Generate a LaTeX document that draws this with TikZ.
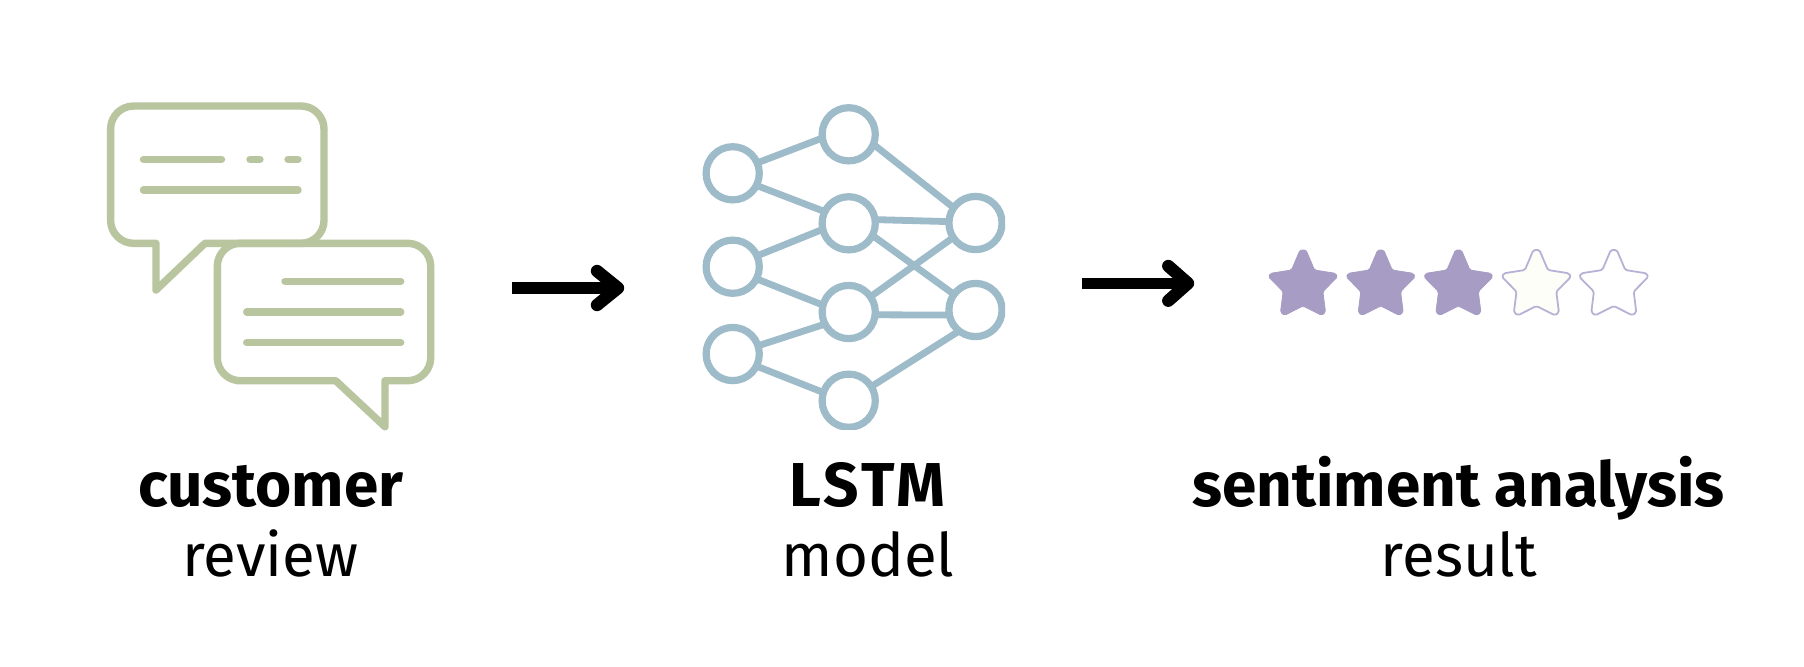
\documentclass[tikz,border=0pt]{standalone}
\usepackage{fontspec}
\setmainfont{Fira Sans}
\definecolor{bubblegreen}{HTML}{B8C59F}
\definecolor{netblue}{HTML}{9DBBC9}
\definecolor{starfill}{HTML}{A79CC4}
\definecolor{staredge}{HTML}{B8B1D6}
\definecolor{stariv}{HTML}{FDFEF8}
\tikzset{
  bubble/.style={draw=bubblegreen,line width=3.7pt,line join=round},
  txtline/.style={draw=bubblegreen,line width=3.7pt,line cap=round},
  neuron/.style={circle,draw=netblue,line width=3.6pt,minimum size=26.6pt,inner sep=0pt,outer sep=0pt},
  synapse/.style={draw=netblue,line width=3.4pt},
  shaft/.style={draw=black,line width=5.6pt},
  head/.style={draw=black,line width=6.2pt,line cap=round,line join=round},
  boldlab/.style={anchor=base,inner sep=0pt,font=\fontsize{31}{36}\selectfont\bfseries},
  reglab/.style={anchor=base,inner sep=0pt,font=\fontsize{30}{36}\selectfont},
  rstar/.pic={\path[pic actions,rounded corners=.8pt,line join=round]
    (-3,-33.3) -- (3,-33.3) -- (11.5,-13.3) -- (32.5,-10) -- (34.5,-6.5) -- (19.9,8.3) -- (22.5,29) -- (18.5,32) -- (0,22.7)
    -- (-18.5,32) -- (-22.5,29) -- (-19.9,8.3) -- (-34.5,-6.5) -- (-32.5,-10) -- (-11.5,-13.3) -- cycle;},
  starfull/.style={fill=starfill,draw=starfill,line width=.4pt},
  stariv/.style={fill=stariv,draw=staredge,line width=.9pt},
  starempty/.style={fill=white,draw=staredge,line width=.9pt},
}
\begin{document}
\begin{tikzpicture}[x=.5pt,y=-.5pt]
\useasboundingbox (0,0) rectangle (1804,666);
\fill[white] (0,0) rectangle (1804,666);
% speech bubbles
\draw[bubble] (156,290) -- (156,243.3) -- (140,243.3) {[rounded corners=11.5pt] -- (110.6,243.3) -- (110.6,106) -- (324,106) -- (324,243.3) -- (280,243.3)} -- (205,243.3) -- cycle;
\draw[bubble] (385,426.7) -- (385,380.7) -- (400,380.7) {[rounded corners=11.5pt] -- (430.7,380.7) -- (430.7,243.3) -- (217.3,243.3) -- (217.3,380.7) -- (260,380.7)} -- (335.7,380.7) -- cycle;
\draw[txtline] (143.5,159.3) -- (221.5,159.3);
\draw[txtline] (250,159.3) -- (260,159.3);
\draw[txtline] (288,159.3) -- (298,159.3);
\draw[txtline] (143.5,190) -- (298,190);
\draw[txtline] (285,281.3) -- (400.7,281.3);
\draw[txtline] (246.7,312) -- (400.7,312);
\draw[txtline] (246.7,342.7) -- (400.7,342.7);
% network
\begin{scope}
\clip (600,0) rectangle (1005,429);
\node[neuron] (L1) at (732.7,173.3) {};
\node[neuron] (L2) at (732.7,266.7) {};
\node[neuron] (L3) at (732.7,354) {};
\node[neuron] (M1) at (848.7,134.3) {};
\node[neuron] (M2) at (848.7,223.3) {};
\node[neuron] (M3) at (848.7,312) {};
\node[neuron] (M4) at (848.7,400.7) {};
\node[neuron] (R1) at (975.5,223) {};
\node[neuron] (R2) at (975.5,310) {};
\draw[synapse] (L1.23) -- (M1.188);
\draw[synapse] (L1.-27) -- (M2.154);
\draw[synapse] (L2.24) -- (M2.193);
\draw[synapse] (L2.-27) -- (M3.165);
\draw[synapse] (L3.18) -- (M3.207);
\draw[synapse] (L3.-27) -- (M4.162);
\draw[synapse] (M1.-22) -- (R1.145);
\draw[synapse] (M2.8) -- (R1.177);
\draw[synapse] (M2.-27) -- (R2.144);
\draw[synapse] (M3.35) -- (R1.213);
\draw[synapse] (M3.-6) -- (R2.191);
\draw[synapse] (M4.32) -- (R2.232);
\end{scope}
% arrows
\coordinate (a1s) at (512.3,288);
\coordinate (a1e) at (618,288);
\coordinate (a1u) at (597,271);
\coordinate (a1d) at (597,305);
\draw[shaft] (a1s) -- (a1e);
\draw[head] (a1u) -- (a1e) -- (a1d);
\coordinate (a2s) at (1082.2,283.3);
\coordinate (a2e) at (1188,283.3);
\coordinate (a2u) at (1168.3,266);
\coordinate (a2d) at (1168.3,300.7);
\draw[shaft] (a2s) -- (a2e);
\draw[head] (a2u) -- (a2e) -- (a2d);
% stars
\pic[starfull] at (1303,283.3) {rstar};
\pic[starfull] at (1380.7,283.3) {rstar};
\pic[starfull] at (1458.4,283.3) {rstar};
\pic[stariv] at (1536.4,283.3) {rstar};
\pic[starempty] at (1613.8,283.3) {rstar};
% labels
\node[boldlab] (t1) at (270.7,506.7) {customer};
\node[reglab] (t2) at (270.5,576.7) {review};
\node[boldlab] (t3) at (867.5,506.7) {\addfontfeatures{LetterSpace=5}LSTM};
\node[reglab] (t4) at (868,576.7) {model};
\node[boldlab] (t5) at (1458.5,506.7) {sentiment analysis};
\node[reglab] (t6) at (1459,576.7) {result};
\end{tikzpicture}
\end{document}
